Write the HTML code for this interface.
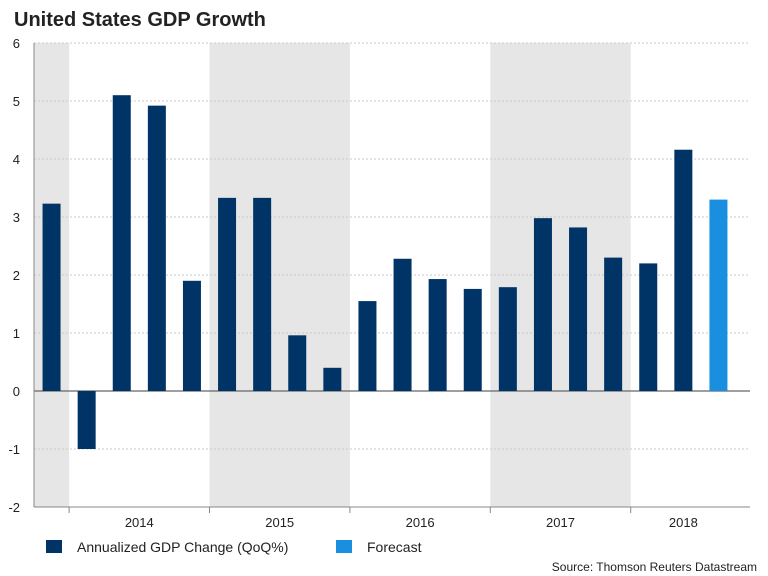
<!DOCTYPE html>
<html><head><meta charset="utf-8"><style>
body{margin:0;background:#fff;font-family:"Liberation Sans",Arial,sans-serif;}
#wrap{position:relative;width:768px;height:576px;overflow:hidden;}
</style></head><body>
<div id="wrap">
<svg id="chart" width="768" height="576" xmlns="http://www.w3.org/2000/svg">
<text x="14" y="26" font-size="20" font-weight="bold" fill="#222" font-family="Liberation Sans, sans-serif">United States GDP Growth</text>
<g id="bands"></g><g id="grid"></g><g id="bars"></g><g id="axes"></g>
<g>
<rect x="46" y="540" width="16" height="13" fill="#003366"/>
<text x="77" y="552" font-size="14" fill="#222">Annualized GDP Change (QoQ%)</text>
<rect x="336" y="540" width="16" height="13" fill="#1a8fe0"/>
<text x="367" y="552" font-size="14" fill="#222">Forecast</text>
</g>
<text x="757" y="571" font-size="12" fill="#222" text-anchor="end">Source: Thomson Reuters Datastream</text>
</svg>
</div>
<script>
const values=[3.23,-1.0,5.1,4.92,1.9,3.33,3.33,0.96,0.4,1.55,2.28,1.93,1.76,1.79,2.98,2.82,2.3,2.2,4.16,3.3];
const isForecast=[0,0,0,0,0,0,0,0,0,0,0,0,0,0,0,0,0,0,0,1];
const yTicks=[-2,-1,0,1,2,3,4,5,6];
const years=["2014","2015","2016","2017","2018"];
const yearStart=[1,5,9,13,17];
const yearLen=[4,4,4,4,3];
const shaded=[[0,1],[5,9],[13,17]];
const NS="http://www.w3.org/2000/svg";
const x0=34,slot=35.1,xEnd=750,yTop=43,yBot=507,yMin=-2,yMax=6;
const X=i=>x0+slot*i;
const Y=v=>yBot-(v-yMin)/(yMax-yMin)*(yBot-yTop);
function mk(tag,attrs,parent){const e=document.createElementNS(NS,tag);for(const k in attrs)e.setAttribute(k,attrs[k]);document.getElementById(parent).appendChild(e);return e;}
shaded.forEach(s=>{const r=mk('rect',{x:X(s[0]),y:yTop,width:X(s[1])-X(s[0]),height:yBot-yTop,fill:'#e6e6e6'},'bands');

});
yTicks.forEach(t=>{const l=mk('line',{x1:x0,x2:xEnd,y1:Y(t),y2:Y(t),stroke:t===0?'#666':'#c8c8c8','stroke-width':t===0?1.2:1,'stroke-dasharray':t===0?'':'2,2'},'grid');


const tx=mk('text',{x:20,y:Y(t)+5,'font-size':13,fill:'#222','text-anchor':'end'},'axes');tx.textContent=t;

});
values.forEach((v,i)=>{const c=X(i)+slot/2,w=18;const r=mk('rect',{x:c-w/2,y:Math.min(Y(v),Y(0)),width:w,height:Math.abs(Y(v)-Y(0)),fill:isForecast[i]?'#1a8fe0':'#003366'},'bars');

});
const ax=mk('line',{x1:x0,x2:x0,y1:yTop,y2:yBot,stroke:'#888'},'axes');


const bx=mk('line',{x1:x0,x2:xEnd,y1:yBot,y2:yBot,stroke:'#888'},'axes');


years.forEach((y,k)=>{const s=yearStart[k],n=yearLen[k];const tk=mk('line',{x1:X(s),x2:X(s),y1:yBot,y2:yBot+6,stroke:'#888'},'axes');


const t=mk('text',{x:X(s)+slot*n/2,y:527,'font-size':13,fill:'#222','text-anchor':'middle'},'axes');t.textContent=y;

});
</script>
</body></html>
